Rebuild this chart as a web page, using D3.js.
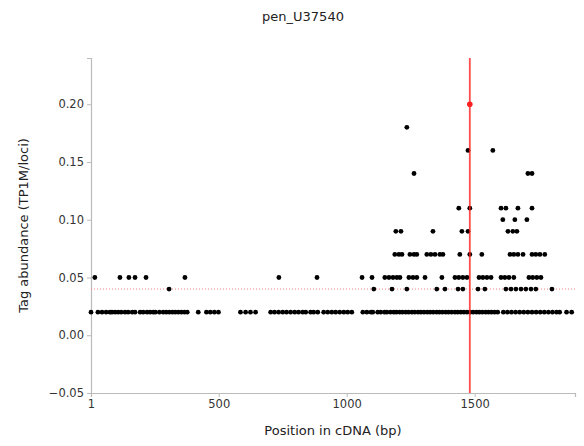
<!DOCTYPE html>
<html>
<head>
<meta charset="utf-8" />
<title>pen_U37540</title>
<style>
html, body {
    padding: 0px;
    margin: 0px;
    background: #fff;
}
text {
    font-family: "DejaVu Sans", sans-serif;
}
</style>
</head>
<body>
<div id="chart"></div>
<script src="https://cdnjs.cloudflare.com/ajax/libs/d3/7.8.5/d3.min.js"></script>
<script>
// tag positions (bp) grouped by abundance level
var pos002 = [1, 28, 44, 60, 75, 83, 95, 107, 119, 134, 146, 162, 173, 193, 205, 220, 232, 244,
    252, 268, 283, 295, 307, 319, 330, 342, 354, 366, 377, 420, 452, 467, 483, 499,
    585, 605, 624, 644, 703, 718, 734, 750, 765, 781, 797, 812, 828, 840, 859, 871, 887,
    910, 926, 942, 957, 973, 989, 1004, 1020, 1063, 1079, 1095, 1102,
    1121, 1133, 1148, 1157, 1171, 1184, 1194, 1207, 1218, 1231, 1242, 1255, 1266, 1279,
    1290, 1302, 1315, 1326, 1338, 1351, 1362, 1374, 1387, 1398, 1410, 1423, 1434, 1446,
    1458, 1470, 1482, 1494, 1507, 1518, 1530, 1543, 1554, 1566, 1578, 1590,
    1612, 1628, 1644, 1660, 1676, 1692, 1708, 1724, 1740, 1756, 1772, 1788, 1804, 1820, 1832,
    1859, 1879];
var pos004 = [306, 1106, 1177, 1235, 1352, 1384, 1435, 1454, 1513, 1540, 1622, 1642, 1661,
    1681, 1700, 1720, 1739, 1802];
var pos005 = [16, 114, 149, 173, 216, 368, 735, 884, 1060, 1099, 1149, 1165, 1181, 1196, 1208,
    1243, 1259, 1274, 1306, 1372, 1423, 1438, 1454, 1470, 1517, 1532, 1548, 1564,
    1603, 1618, 1634, 1653, 1712, 1727, 1743, 1759];
var pos007 = [1188, 1204, 1216, 1247, 1263, 1274, 1313, 1329, 1345, 1364, 1376, 1442, 1481,
    1528, 1638, 1653, 1669, 1689, 1724, 1739, 1755, 1774];
var pos009 = [1192, 1212, 1337, 1450, 1474, 1630, 1649, 1665];
var pos010 = [1610, 1657, 1704];
var pos011 = [1438, 1481, 1603, 1622, 1669, 1724];
var pos014 = [1263, 1708, 1724];
var pos016 = [1474, 1571];
var pos018 = [1235];

var levels = [0.02, 0.04, 0.05, 0.07, 0.09, 0.10, 0.11, 0.14, 0.16, 0.18];
var groups = [pos002, pos004, pos005, pos007, pos009, pos010, pos011, pos014, pos016, pos018];

var highlightPos = 1481;
var highlightVal = 0.20;
var meanLine = 0.04;

var xTicks = [1, 500, 1000, 1500];
var yTicks = [-0.05, 0.00, 0.05, 0.10, 0.15, 0.20];
var cdnaLength = 1892;

var width = 584, height = 446;
var margin = {top: 58, right: 9, bottom: 53, left: 91};

var svg = d3.select("#chart").append("svg")
    .attr("width", width)
    .attr("height", height);

var x = d3.scaleLinear().domain([1, cdnaLength]).range([margin.left, width - margin.right]);
var y = d3.scaleLinear().domain([-0.05, 0.24]).range([height - margin.bottom, margin.top]);

var points = [];
groups.forEach(function(g, i) {
    g.forEach(function(p) { points.push({pos: p, val: levels[i]}); });
});

// axes
var xAxis = svg.append("g")
    .attr("transform", "translate(0," + (height - margin.bottom) + ")")
    .call(d3.axisBottom(x).tickValues(xTicks).tickFormat(d3.format("d")).tickSize(4).tickPadding(3));
var yAxis = svg.append("g")
    .attr("transform", "translate(" + margin.left + ",0)")
    .call(d3.axisLeft(y).tickValues(yTicks).tickFormat(function(d) {
        return d < 0 ? "\u2212" + Math.abs(d).toFixed(2) : d.toFixed(2);
    }).tickSize(4).tickPadding(3));

[xAxis, yAxis].forEach(function(a) {
    a.select(".domain").attr("stroke", "#bbb").attr("stroke-width", 1.2);
    a.selectAll(".tick line").attr("stroke", "#bbb");
    a.selectAll(".tick text").attr("fill", "#333").attr("font-size", 11.5)
        .attr("font-family", "DejaVu Sans, sans-serif");
});

// mean line
svg.append("line")
    .attr("x1", x(1)).attr("x2", x(cdnaLength))
    .attr("y1", y(meanLine)).attr("y2", y(meanLine))
    .attr("stroke", "#f08080")
    .attr("stroke-width", 1)
    .attr("stroke-dasharray", "1,2");

// points
svg.append("g").selectAll("circle")
    .data(points)
    .enter()
    .append("circle")
    .attr("cx", function(d) { return x(d.pos); })
    .attr("cy", function(d) { return y(d.val); })
    .attr("r", 2.4)
    .attr("fill", "#000");

// highlighted position
svg.append("line")
    .attr("x1", x(highlightPos)).attr("x2", x(highlightPos))
    .attr("y1", y(0.24)).attr("y2", y(-0.05))
    .attr("stroke", "#ff2020")
    .attr("stroke-opacity", 0.8)
    .attr("stroke-width", 1.8);

svg.append("circle")
    .attr("cx", x(highlightPos))
    .attr("cy", y(highlightVal))
    .attr("r", 2.8)
    .attr("fill", "#ff2020");

// titles
svg.append("text")
    .attr("x", 303).attr("y", 21)
    .attr("text-anchor", "middle")
    .attr("font-size", 13)
    .attr("fill", "#222")
    .text("pen_U37540");

svg.append("text")
    .attr("x", (x.range()[0] + x.range()[1]) / 2)
    .attr("y", 435)
    .attr("text-anchor", "middle")
    .attr("font-size", 13)
    .attr("fill", "#222")
    .text("Position in cDNA (bp)");

svg.append("text")
    .attr("transform", "translate(28," + ((y.range()[0] + y.range()[1]) / 2) + ") rotate(-90)")
    .attr("text-anchor", "middle")
    .attr("font-size", 13)
    .attr("fill", "#222")
    .text("Tag abundance (TP1M/loci)");
</script>
</body>
</html>
